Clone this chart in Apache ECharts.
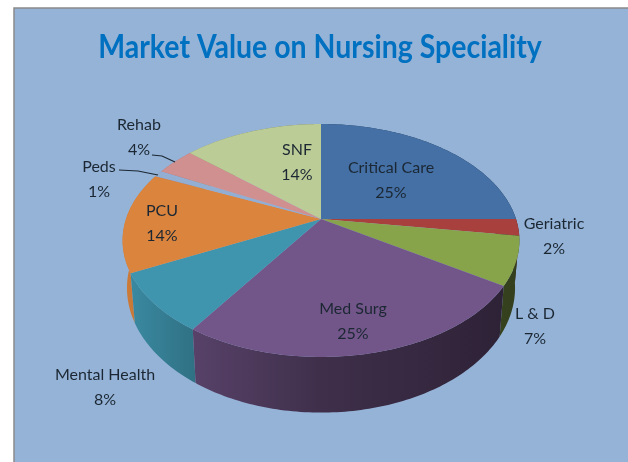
<!DOCTYPE html>
<html>
<head>
<meta charset="utf-8">
<style>html,body{margin:0;padding:0;background:#fff}#main{width:628px;height:462px}</style>
<script src="https://cdn.jsdelivr.net/npm/echarts@6/dist/echarts.min.js"></script>
</head>
<body>
<div id="main"></div>
<script>
const chartTitle = "Market Value on Nursing Speciality";
const categories = ["Critical Care", "Geriatric", "L & D", "Med Surg", "Mental Health", "PCU", "Peds", "Rehab", "SNF"];
const values = [25, 2.3, 6.7, 25.4, 8.3, 14, 0.9, 3.8, 13.6];
const colors = ["#4470a5", "#a8413e", "#87a44b", "#735689", "#3f95ae", "#db843d", "#93aed3", "#d09090", "#bccc96"];
const labelSpots = [[391, 180], [554, 236], [535, 326], [353, 321], [105, 387], [162, 223], [99, 179], [139, 137], [297, 162]];
const leaders = { Peds: [[119, 170], [138, 171], [158, 175]], Rehab: [[152, 155], [162, 156], [175, 162]] };

// perspective of the pie disc
const cx = 321, topY = 219, rx = 195, ry = 112.5, k = 0.1845;
const botY = 265, botX = 0.978, botYScale = 1.07;
const rimTop = (t) => {
  const a = (t * Math.PI) / 180;
  const f = 1 / (1 + k * Math.cos(a));
  return [cx + rx * Math.sin(a) * f, topY - ry * Math.cos(a) * f];
};
const rimBot = (t) => {
  const p = rimTop(t);
  return [cx + (p[0] - cx) * botX, botY + (p[1] - topY) * botYScale];
};

const total = values.reduce((a, b) => a + b, 0);
let acc = 0;
const slices = values.map((v, i) => {
  const start = (acc / total) * 360;
  acc += v;
  return [i, start, (acc / total) * 360];
});
const arc = (fn, a, b) => {
  const pts = [];
  const n = Math.max(2, Math.ceil(b - a));
  for (let j = 0; j <= n; j++) pts.push(fn(a + ((b - a) * j) / n));
  return pts;
};

// wall brightness runs dark to the right
const shadeAt = (x) => {
  const xs = [123, 195, 320, 500, 520];
  const ss = [0.94, 0.76, 0.55, 0.4, 0.38];
  for (let i = 1; i < xs.length; i++) {
    if (x <= xs[i]) return ss[i - 1] + ((ss[i] - ss[i - 1]) * (x - xs[i - 1])) / (xs[i] - xs[i - 1]);
  }
  return 0.38;
};
const darken = (hex, s) => {
  const n = parseInt(hex.slice(1), 16);
  return `rgb(${Math.round((n >> 16) * s)},${Math.round(((n >> 8) & 255) * s)},${Math.round((n & 255) * s)})`;
};
const wallFill = (hex) => ({
  type: "linear", x: 123, y: 0, x2: 520, y2: 0, global: true,
  colorStops: [123, 195, 260, 320, 410, 500, 520].map((x) => ({ offset: (x - 123) / 397, color: darken(hex, shadeAt(x)) })),
});

const wallOrder = slices.slice().sort((a, b) => Math.abs(b[1] / 2 + b[2] / 2 - 180) - Math.abs(a[1] / 2 + a[2] / 2 - 180));

const myChart = echarts.init(document.getElementById("main"));
myChart.setOption({
  animation: false,
  graphic: [
    {
      type: "rect", z: -1, silent: true,
      shape: { x: 14, y: 8, width: 640, height: 480 },
      style: { fill: "#95b3d7", stroke: "#8a8a8a", lineWidth: 1.5 },
    },
    {
      // the original face is narrower than Lato, so squeeze it
      type: "text", z: 5, silent: true, x: 320, y: 48, scaleX: 0.89,
      style: {
        text: chartTitle, align: "center", verticalAlign: "middle",
        fill: "#0070c0", fontFamily: "Lato", fontWeight: "bold", fontSize: 32,
      },
    },
  ],
  series: [
    {
      type: "custom", coordinateSystem: "none", z: 2, data: wallOrder,
      renderItem(params, api) {
        const i = api.value(0), a = api.value(1), b = api.value(2);
        return {
          type: "polygon",
          shape: { points: arc(rimTop, a, b).concat(arc(rimBot, a, b).reverse()) },
          style: { fill: wallFill(colors[i]) },
        };
      },
    },
    {
      type: "custom", coordinateSystem: "none", z: 3, data: slices,
      renderItem(params, api) {
        const i = api.value(0), a = api.value(1), b = api.value(2);
        return {
          type: "polygon",
          shape: { points: [[cx, topY]].concat(arc(rimTop, a, b)) },
          style: { fill: colors[i] },
        };
      },
    },
    {
      type: "custom", coordinateSystem: "none", z: 4, data: slices,
      renderItem(params, api) {
        const i = api.value(0);
        const name = categories[i];
        const kids = [{
          type: "text",
          style: {
            x: labelSpots[i][0], y: labelSpots[i][1],
            text: name + "\n" + Math.round((values[i] / total) * 100) + "%",
            align: "center", verticalAlign: "middle",
            fill: "#1b2733", fontFamily: "Lato", fontSize: 16, lineHeight: 25,
          },
        }];
        if (leaders[name]) {
          kids.push({
            type: "polyline",
            shape: { points: leaders[name] },
            style: { fill: "none", stroke: "#1b2733", lineWidth: 1.2 },
          });
        }
        return { type: "group", children: kids };
      },
    },
  ],
});
</script>
</body>
</html>
